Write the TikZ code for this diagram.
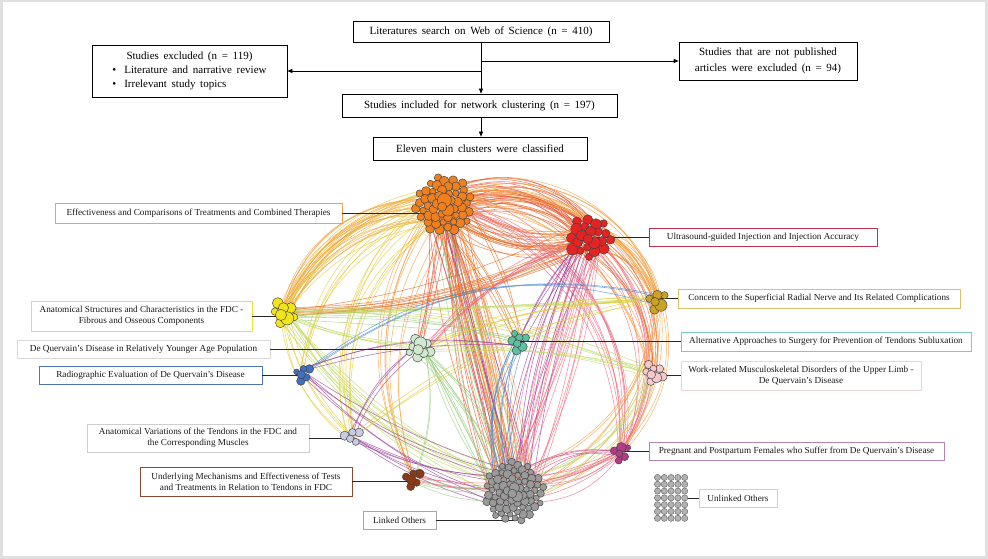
\documentclass[tikz,border=0pt]{standalone}
\usepackage{fontspec}
\setmainfont{Liberation Serif}
\newfontfamily\flowfont{Liberation Serif}[WordSpace=1.7]
\usetikzlibrary{calc,arrows.meta}

\definecolor{cOC}{HTML}{F0801E}
\definecolor{cRC}{HTML}{E42424}
\definecolor{cYC}{HTML}{F2E41A}
\definecolor{cGC}{HTML}{CFE8CF}
\definecolor{cBC}{HTML}{4170C0}
\definecolor{cTC}{HTML}{5CC0A4}
\definecolor{cSC}{HTML}{C9A227}
\definecolor{cWC}{HTML}{F6C8CC}
\definecolor{cLC}{HTML}{CACAE2}
\definecolor{cMC}{HTML}{8A3A14}
\definecolor{cPC}{HTML}{B23A88}
\definecolor{cKC}{HTML}{9A9A9A}

\definecolor{bEff}{HTML}{E9A25A}
\definecolor{bAns}{HTML}{E8E23A}
\definecolor{bYou}{HTML}{D8D8D8}
\definecolor{bRad}{HTML}{4E74B2}
\definecolor{bUs}{HTML}{C2304E}
\definecolor{bCon}{HTML}{D9C36A}
\definecolor{bAlt}{HTML}{7CC9C0}
\definecolor{bWrk}{HTML}{E9D4D6}
\definecolor{bAv}{HTML}{CFCFCF}
\definecolor{bUm}{HTML}{8A4A34}
\definecolor{bLo}{HTML}{A8A8A8}
\definecolor{bPr}{HTML}{B584B5}
\definecolor{bUl}{HTML}{CFCFCF}

\definecolor{eo}{HTML}{F4A040}
\definecolor{er}{HTML}{E8502E}
\definecolor{ey}{HTML}{E6CC38}
\definecolor{eg}{HTML}{98D080}
\definecolor{el}{HTML}{C0DC60}
\definecolor{ep}{HTML}{F06A80}
\definecolor{eu}{HTML}{9A40A0}
\definecolor{eb}{HTML}{4A8AD0}
\definecolor{ed}{HTML}{E86A1C}
\definecolor{em}{HTML}{D04890}

\def\Roc{18}\def\Rrc{14}\def\Rkc{20}\def\Ryc{6}\def\Rgc{6}\def\Rbc{4}
\def\Rtc{5}\def\Rsc{5}\def\Rwc{5}\def\Rlc{4}\def\Rmc{4}\def\Rpc{4}

\newcommand\drawclu[5]{%
  \foreach \i in {#2,...,1}{%
    \pgfmathsetmacro\rr{#3*sqrt(\i-0.6)}%
    \pgfmathsetmacro\th{\i*137.508}%
    \pgfmathsetmacro\cr{#3*(0.78+0.5*rnd)+((\i<4) ? (#5*rnd) : 0)}%
    \filldraw[fill=#4, draw=black!75, line width=0.45pt] ($(#1)+(\th:\rr)$) circle (\cr);
  }}

\begin{document}
\begin{tikzpicture}[x=1pt,y=-1pt,
  fbox/.style={draw=black, line width=0.7pt, fill=white, inner sep=1pt,
    font=\flowfont\fontsize{11}{16}\selectfont, align=center},
  lbox/.style={draw=#1, line width=0.6pt, fill=white, inner sep=1pt,
    font=\fontsize{9.2}{11}\selectfont, align=center, text=black!90},
  arr/.style={line width=0.7pt, -{Triangle[length=5pt,width=4pt]}},
  lead/.style={line width=0.7pt, draw=black!85},
  lnk/.style={line width=0.55pt, opacity=0.75},
]
\useasboundingbox (0,0) rectangle (988,559);
\fill[black!12] (0,0) rectangle (988,559);
\fill[white] (3,2) rectangle (985,556);

% cluster centres
\coordinate (oc) at (444,205);
\coordinate (rc) at (590,237);
\coordinate (yc) at (283,313);
\coordinate (gc) at (420,348);
\coordinate (bc) at (303,373);
\coordinate (tc) at (519,342);
\coordinate (sc) at (657,300);
\coordinate (wc) at (653,373);
\coordinate (lc) at (352,437);
\coordinate (mc) at (413,478);
\coordinate (pc) at (621,452);
\coordinate (kc) at (514,492);
\coordinate (ugE) at (688,498);

% network links
\pgfmathsetseed{2024}
\foreach \s/\t/\n/\c/\b/\d in {
  oc/rc/30/er/25/22, oc/rc/20/ed/-35/18, oc/yc/22/eo/-45/22, oc/yc/8/ey/-30/12,
  oc/kc/24/er/-12/22, oc/kc/14/eo/-2/16, oc/kc/6/eu/-5/10, oc/kc/6/eg/-10/10,
  oc/sc/14/eo/40/15, oc/pc/10/ep/35/15, oc/wc/6/eo/35/10, oc/lc/8/ey/-44/15,
  oc/mc/8/eo/-38/15, oc/gc/6/er/-5/10, oc/tc/6/ed/5/10, oc/bc/5/ey/-40/10,
  rc/kc/18/ep/-10/20, rc/kc/8/eu/-15/10, rc/sc/8/eo/30/10, rc/pc/10/ep/30/15,
  rc/wc/5/ed/25/10, rc/yc/10/ed/8/8, yc/kc/10/el/-25/15, yc/sc/5/el/-5/10,
  yc/tc/4/eg/0/10, yc/lc/5/ey/-25/10, gc/kc/12/eg/-10/25, gc/rc/6/ep/10/10,
  tc/kc/8/eb/-25/10, tc/rc/4/eu/5/10, bc/kc/5/eu/-15/10, bc/sc/3/eb/20/10,
  lc/kc/6/eu/-15/10, mc/kc/5/eg/-20/10, mc/gc/2/eg/-20/10, pc/kc/7/ep/15/15,
  sc/kc/6/eo/25/15, wc/kc/6/el/20/15, sc/pc/4/eo/20/10, yc/wc/4/el/10/10,
  lc/sc/3/ey/10/10, gc/sc/5/ey/5/10, gc/wc/4/el/0/10, bc/tc/3/eu/5/10,
  mc/pc/4/ep/-25/10, kc/pc/5/em/20/10, yc/gc/4/el/-10/10, lc/gc/3/eu/10/10}{
  \foreach \k in {1,...,\n}{
    \pgfmathsetmacro\ang{\b+\d*rnd}
    \pgfmathsetmacro\bin{180-\ang}
    \pgfmathsetmacro\ra{\csname R\s\endcsname}
    \pgfmathsetmacro\rb{\csname R\t\endcsname}
    \pgfmathsetmacro\ax{(2*rnd-1)*\ra}
    \pgfmathsetmacro\ay{(2*rnd-1)*\ra}
    \pgfmathsetmacro\bx{(2*rnd-1)*\rb}
    \pgfmathsetmacro\by{(2*rnd-1)*\rb}
    \draw[lnk,draw=\c] ($(\s)+(\ax,\ay)$) to[out=\ang,in=\bin,relative] ($(\t)+(\bx,\by)$);
  }}

% label boxes
\node[lbox=bEff, minimum width=287pt, minimum height=20pt] (effb) at (198.5,213) {Effectiveness and Comparisons of Treatments and Combined Therapies};
\node[lbox=bAns, minimum width=221pt, minimum height=30pt] (ansb) at (141.5,316) {Anatomical Structures and Characteristics in the FDC -\\Fibrous and Osseous Components};
\node[lbox=bYou, minimum width=253pt, minimum height=18pt] (youb) at (143.5,349) {De Quervain's Disease in Relatively Younger Age Population};
\node[lbox=bRad, minimum width=223pt, minimum height=18pt] (radb) at (150.5,375) {Radiographic Evaluation of De Quervain's Disease};
\node[lbox=bUs, minimum width=228pt, minimum height=18pt] (usb) at (763,237) {Ultrasound-guided Injection and Injection Accuracy};
\node[lbox=bCon, minimum width=282pt, minimum height=19pt] (conb) at (819,298.5) {Concern to the Superficial Radial Nerve and Its Related Complications};
\node[lbox=bAlt, minimum width=290pt, minimum height=19pt] (altb) at (826,341.5) {Alternative Approaches to Surgery for Prevention of Tendons Subluxation};
\node[lbox=bWrk, minimum width=240pt, minimum height=29pt] (wrkb) at (801,375.5) {Work-related Musculoskeletal Disorders of the Upper Limb -\\De Quervain's Disease};
\node[lbox=bAv, minimum width=222pt, minimum height=28pt] (avb) at (198,438) {Anatomical Variations of the Tendons in the FDC and\\the Corresponding Muscles};
\node[lbox=bUm, minimum width=212pt, minimum height=29pt] (umb) at (246,481.5) {Underlying Mechanisms and Effectiveness of Tests\\and Treatments in Relation to Tendons in FDC};
\node[lbox=bLo, minimum width=73pt, minimum height=18pt] (lob) at (399.5,520) {Linked Others};
\node[lbox=bPr, minimum width=295pt, minimum height=18pt] (prb) at (796.5,451) {Pregnant and Postpartum Females who Suffer from De Quervain's Disease};
\node[lbox=bUl, minimum width=78pt, minimum height=18pt] (ulb) at (738,498) {Unlinked Others};

% leader lines
\draw[lead] (effb.east) -- (effb.east -| oc);
\draw[lead] (ansb.east) -- (ansb.east -| yc);
\draw[lead] (youb.east) -- (youb.east -| gc);
\draw[lead] (radb.east) -- (radb.east -| bc);
\draw[lead] (usb.west) -- (usb.west -| rc);
\draw[lead] (conb.west) -- (conb.west -| sc);
\draw[lead] (altb.west) -- (altb.west -| tc);
\draw[lead] (wrkb.west) -- (wrkb.west -| wc);
\draw[lead] (avb.east) -- (avb.east -| lc);
\draw[lead] (umb.east) -- (umb.east -| mc);
\draw[lead] (lob.east) -- (lob.east -| kc);
\draw[lead] (prb.west) -- (prb.west -| pc);
\draw[lead] (ulb.west) -- (ugE);

% clusters
\pgfmathsetseed{77}
\drawclu{oc}{52}{4.0}{cOC}{3}
\drawclu{rc}{22}{4.6}{cRC}{2}
\drawclu{kc}{70}{3.6}{cKC}{2}
\drawclu{yc}{8}{4.4}{cYC}{3}
\drawclu{gc}{9}{4.0}{cGC}{2}
\drawclu{bc}{6}{3.6}{cBC}{1}
\drawclu{tc}{7}{3.8}{cTC}{1}
\drawclu{sc}{6}{4.2}{cSC}{1}
\drawclu{wc}{8}{3.8}{cWC}{1}
\drawclu{lc}{5}{4.0}{cLC}{1}
\drawclu{mc}{6}{3.8}{cMC}{1}
\drawclu{pc}{6}{3.8}{cPC}{1}
\foreach \cx in {0,...,4}{
  \foreach \cy in {0,...,6}{
    \filldraw[fill=black!30, draw=black!60, line width=0.45pt] (657.5+6.8*\cx, 477.5+6.8*\cy) circle (3.1);
  }}

% flow chart
\node[fbox, minimum width=256pt, minimum height=21pt] (s1) at (481,31.5) {Literatures search on Web of Science (n = 410)};
\node[fbox, minimum width=195pt, minimum height=52pt, font=\flowfont\fontsize{11}{14}\selectfont] (exl) at (189.5,71) {\begin{tabular}{@{}l@{}}\multicolumn{1}{@{}c@{}}{Studies excluded (n = 119)}\\ \textbullet\hspace{8pt}Literature and narrative review\\ \textbullet\hspace{8pt}Irrelevant study topics\end{tabular}};
\node[fbox, minimum width=178pt, minimum height=38pt] (exr) at (768,61) {Studies that are not published\\articles were excluded (n = 94)};
\node[fbox, minimum width=275pt, minimum height=23pt] (s3) at (479.5,105.5) {Studies included for network clustering (n = 197)};
\node[fbox, minimum width=214pt, minimum height=23pt] (s4) at (480,148.5) {Eleven main clusters were classified};

\draw[arr] (s1.south) -- (s1.south |- s3.north);
\draw[arr] (s1.south |- exl.east) -- (exl.east);
\draw[arr] (s1.south |- exr.west) -- (exr.west);
\draw[arr] (s1.south |- s3.south) -- (s1.south |- s4.north);
\end{tikzpicture}
\end{document}
